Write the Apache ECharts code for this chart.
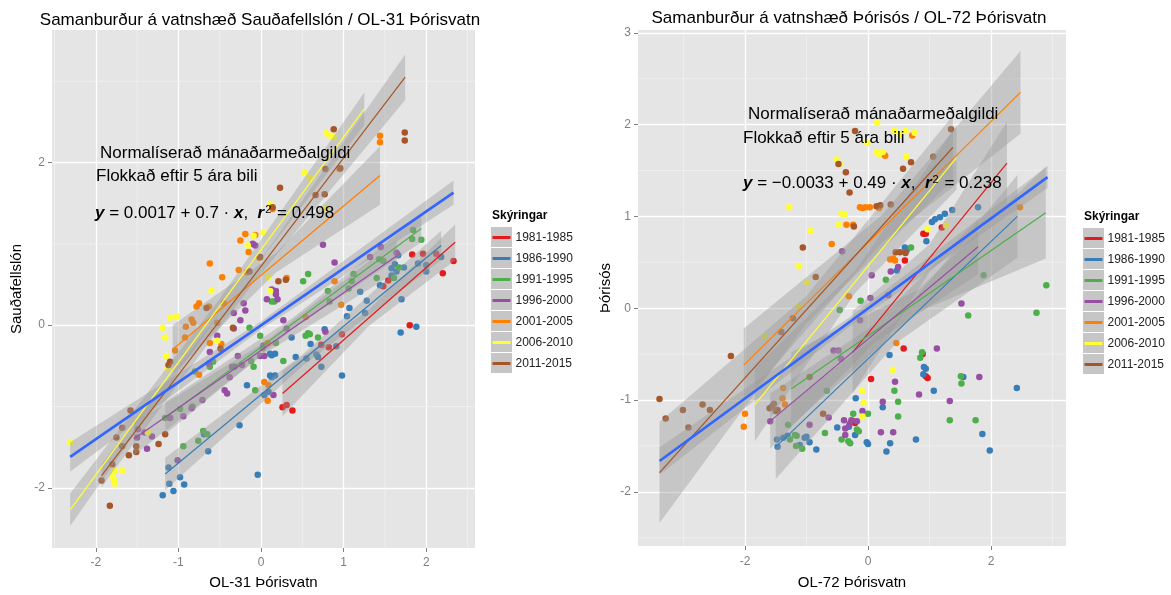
<!DOCTYPE html>
<html><head><meta charset="utf-8">
<script src="https://cdn.jsdelivr.net/npm/echarts@6/dist/echarts.min.js"></script>
<style>html,body{margin:0;padding:0;background:#fff}#c{width:1171px;height:595px}</style>
</head><body><div id="c"></div>
<script>
// ---------- data ----------
const groups = ['1981-1985','1986-1990','1991-1995','1996-2000','2001-2005','2006-2010','2011-2015'];
const colors = ['#E41A1C','#377EB8','#4DAF4A','#984EA3','#FF7F00','#FFFF33','#A65628'];

// Left plot: OL-31 Þórisvatn (x) vs Sauðafellslón (y)
const L81 = [[0.26,-1.01],[0.31,-0.98],[0.38,-1.05],[0.73,-0.24],[0.82,-0.27],[0.98,-0.11],[1.48,0.48],[1.54,0.55],[1.80,0.0],[1.83,0.87],[1.96,0.88],[2.12,0.88],[2.20,0.64],[2.33,0.79]];
const L86 = [[-1.19,-2.09],[-1.06,-2.04],[-1.11,-1.95],[-0.93,-1.96],[-0.98,-1.87],[-1.12,-1.75],[-0.64,-1.55],[-0.69,-1.34],[-0.26,-1.23],[-0.04,-1.84],[-0.17,-0.74],[0.04,-0.86],[0.09,-0.82],[0.13,-0.64],[0.11,-0.62],[0.17,-0.62],[0.13,-0.37],[0.11,-0.35],[0.17,-0.35],[0.37,-0.15],[0.42,-0.39],[0.55,-0.41],[0.60,-0.23],[0.67,-0.36],[0.69,-0.39],[0.73,-0.51],[0.77,-0.05],[0.91,-0.26],[0.98,-0.62],[1.04,0.11],[1.07,0.21],[1.20,0.41],[1.26,0.15],[1.28,0.30],[1.44,0.49],[1.58,0.70],[1.62,0.75],[1.64,0.66],[1.66,0.86],[1.73,0.71],[1.58,0.61],[1.70,0.32],[1.69,-0.09],[1.88,-0.02],[1.90,0.76],[2.0,0.66],[2.0,0.74],[2.18,0.84]];
const L91 = [[-0.94,-1.49],[-0.76,-1.42],[-0.70,-1.30],[-0.65,-1.34],[-1.16,-1.14],[-0.98,-1.03],[-0.83,-1.0],[-0.80,-0.57],[-0.62,-0.51],[-0.58,-0.45],[-0.12,-0.44],[-0.09,-0.51],[-0.07,-0.80],[-0.14,-0.03],[-0.01,-0.13],[0.02,-0.28],[0.13,0.29],[0.16,0.29],[0.18,-0.22],[0.27,-0.44],[0.51,0.54],[0.54,-0.13],[0.57,-0.10],[0.59,-0.11],[0.69,-0.15],[0.57,0.63],[0.81,0.42],[0.83,0.29],[1.06,0.45],[1.10,0.54],[1.12,0.63],[1.40,0.58],[1.43,0.81],[1.48,0.79],[1.61,0.58],[1.67,0.71],[1.83,1.06],[1.84,1.17],[1.94,1.05]];
const L96 = [[-1.50,-1.38],[-1.41,-1.32],[-1.32,-1.37],[-1.38,-1.52],[-1.49,-1.28],[-1.01,-1.66],[-1.10,-1.14],[-0.94,-1.12],[-0.84,-1.02],[-0.71,-0.92],[-0.62,-0.33],[-0.63,-0.47],[-0.53,-0.13],[-0.44,-0.80],[-0.41,-0.84],[-0.38,-0.64],[-0.35,-0.51],[-0.32,-0.51],[-0.33,-0.04],[-0.33,0.15],[-0.28,-0.38],[-0.23,-0.49],[-0.25,0.06],[-0.19,0.18],[-0.21,0.27],[-0.07,0.98],[-0.10,1.0],[-0.01,-0.38],[0.04,-0.38],[0.03,-0.25],[0.07,0.32],[0.13,0.44],[0.15,-0.86],[0.18,0.38],[0.18,0.42],[0.20,0.32],[0.27,0.06],[0.31,-0.04],[0.75,0.99],[0.78,-0.08],[0.89,0.77],[1.32,0.84],[1.45,0.96],[1.64,0.89]];
const L01 = [[-1.04,-0.31],[-0.92,-0.15],[-0.91,-0.02],[-0.82,0.03],[-0.84,0.07],[-0.75,0.27],[-0.63,0.23],[-0.45,0.27],[-0.78,0.23],[-0.75,-0.61],[-0.62,-0.22],[-0.53,0.03],[-0.48,-0.23],[-0.47,0.59],[-0.62,0.76],[-0.27,0.68],[-0.17,0.65],[-0.25,1.04],[-0.19,1.12],[-0.07,1.11],[-0.15,0.90],[-0.02,0.83],[0.04,-0.70],[0.08,-0.93],[0.09,-0.74],[0.08,-0.22],[0.14,1.43],[0.31,0.58],[0.54,0.10],[0.89,0.54],[0.97,0.25],[0.95,1.92],[1.44,2.33],[1.44,2.25]];
const L06 = [[-2.31,-1.44],[-1.80,-1.85],[-1.78,-1.91],[-1.77,-1.95],[-1.77,-1.79],[-1.68,-1.79],[-1.37,-1.32],[-1.19,-0.03],[-1.16,-0.15],[-1.15,-0.38],[-1.13,-0.53],[-1.10,0.09],[-1.02,0.11],[-0.60,0.42],[-0.53,-0.19],[-0.16,0.98],[-0.09,1.10],[0.03,1.14],[0.09,0.59],[0.11,1.49],[0.11,0.42],[0.53,1.87],[0.59,1.81],[0.78,1.43],[0.79,2.36],[0.84,2.33],[0.88,2.31]];
const L11 = [[-1.93,-1.91],[-1.83,-2.22],[-1.80,-1.71],[-1.75,-1.38],[-1.68,-1.26],[-1.68,-1.49],[-1.60,-1.60],[-1.58,-1.05],[-1.51,-1.56],[-1.51,-1.49],[-1.24,-1.46],[-1.16,-1.34],[-1.12,-0.49],[-1.10,-0.45],[-0.66,0.21],[-0.49,-0.29],[-0.34,-0.03],[-0.14,0.66],[-0.01,0.84],[0.14,1.45],[0.21,0.54],[0.30,0.56],[0.23,1.69],[0.66,1.60],[0.77,1.61],[0.78,1.92],[0.88,2.41],[0.96,1.93],[1.74,2.37],[1.74,2.27]];
// fitted lines per group [x0, y0, x1, y1] and band half widths [start, middle, end]
const leftFits = [[0.26,-0.84,2.35,1.02],[-1.16,-1.83,2.18,0.98],[-1.16,-1.14,1.94,1.19],[-1.54,-1.40,1.64,0.85],[-1.07,-0.30,1.44,1.84],[-2.31,-2.27,1.25,2.66],[-1.93,-1.85,1.745,3.05]];
const leftBands = [[0.28,0.10,0.22],[0.2,0.07,0.18],[0.2,0.07,0.17],[0.2,0.07,0.2],[0.3,0.12,0.36],[0.2,0.09,0.2],[0.14,0.08,0.28]];
const leftOverall = [-2.31,-1.62,2.33,1.63];
const leftOverallBand = [0.18,0.05,0.15];

// Right plot: OL-72 Þórisvatn (x) vs Þórisós (y)
const R81 = [[0.58,-0.44],[0.89,-0.50],[0.97,-0.76],[0.94,-0.74],[0.05,-0.77],[-0.24,-1.23],[-0.21,-1.25],[0.60,0.52],[0.90,0.81],[0.94,0.81],[1.20,0.88]];
const R86 = [[-1.48,-1.43],[-1.47,-1.51],[-1.38,-1.41],[-1.31,-1.39],[-1.03,-1.41],[-0.95,-1.46],[-1.0,-1.40],[-0.84,-1.54],[-1.11,-1.49],[-0.50,-1.30],[-0.31,-1.29],[-0.21,-1.38],[-0.20,-0.98],[-0.02,-1.46],[0.0,-1.48],[0.24,-1.08],[0.30,-1.56],[0.36,-1.47],[0.35,-0.51],[0.47,0.41],[0.60,0.66],[0.63,0.63],[0.78,-1.43],[0.91,-0.64],[0.90,-0.72],[0.94,-0.66],[0.95,0.73],[1.04,0.94],[1.07,-0.90],[1.09,0.97],[1.17,0.99],[1.25,1.03],[1.37,1.07],[1.55,-0.75],[1.79,1.10],[1.86,-1.37],[1.98,-1.55],[2.42,-0.87]];
const R91 = [[-1.30,-1.27],[-1.16,-1.39],[-1.07,-1.53],[-1.17,-1.50],[-1.27,-1.43],[-1.19,-1.38],[-0.70,-1.36],[-0.67,-0.90],[-0.46,-0.02],[-0.43,-1.43],[-0.32,-1.45],[-0.29,-1.47],[-0.24,-1.15],[-0.18,-1.32],[-0.15,-1.34],[-0.12,0.08],[0.0,-1.15],[0.29,0.31],[0.43,-0.90],[0.49,-1.02],[0.49,-1.18],[0.70,0.66],[0.85,-0.54],[0.88,-0.48],[1.33,-1.22],[1.51,-0.74],[1.52,-0.82],[1.63,-0.08],[1.75,-1.22],[1.88,0.36],[2.74,-0.05],[2.90,0.25]];
const R96 = [[-1.59,-1.23],[-0.95,-1.27],[-0.64,-1.19],[-0.56,-0.46],[-0.48,-0.46],[-0.44,-0.55],[-0.42,0.62],[-0.39,-1.22],[-0.37,-1.38],[-0.37,-1.31],[-0.30,-1.26],[-0.27,-1.22],[-0.18,-1.23],[-0.13,-0.13],[-0.09,-1.12],[0.04,0.11],[0.06,0.36],[0.21,-1.35],[0.24,-1.02],[0.33,0.14],[0.37,0.40],[0.41,-1.35],[0.44,-0.80],[0.49,0.45],[0.83,-0.94],[1.12,-0.44],[1.33,-1.01],[1.52,0.05],[1.81,-0.75]];
const R01 = [[-2.02,-1.29],[-2.0,-1.15],[-1.39,-0.98],[-1.38,-0.87],[-1.35,-1.05],[-0.59,0.70],[-0.35,0.91],[-0.24,0.91],[-0.13,1.10],[-0.09,1.09],[-0.04,1.10],[0.03,1.10],[0.18,1.09],[0.25,1.68],[0.28,1.66],[0.36,0.53],[0.41,0.54],[0.44,0.52],[0.46,-0.38],[0.72,1.88],[2.47,1.10],[-0.31,0.13]];
const R06 = [[-1.68,-0.31],[-1.28,1.10],[-1.13,0.02],[-1.12,0.46],[-0.99,0.28],[-0.93,0.84],[-0.51,1.62],[-0.46,1.57],[-0.47,0.91],[-0.43,1.03],[-0.38,1.02],[-0.10,-0.90],[-0.09,-1.18],[-0.07,-1.03],[-0.01,1.80],[0.15,2.02],[0.14,1.70],[0.18,1.68],[0.24,1.70],[0.40,-0.67],[0.43,1.93],[0.52,1.89],[0.61,1.93],[0.62,1.65],[0.76,1.91],[0.97,0.86],[1.27,0.90]];
const R11 = [[-3.39,-0.99],[-3.29,-1.20],[-3.01,-1.11],[-2.92,-1.30],[-2.69,-1.05],[-2.57,-1.11],[-2.23,-0.52],[-1.60,-1.09],[-1.56,-1.07],[-1.53,-1.04],[-1.50,-1.12],[-1.47,-1.11],[-1.41,-0.26],[-1.22,-0.11],[-1.06,0.66],[-0.95,-0.75],[-0.85,0.34],[-0.73,-1.15],[-0.48,1.57],[-0.36,1.48],[-0.30,1.26],[-0.23,0.89],[-0.21,1.93],[0.14,1.11],[0.20,1.12],[0.37,1.13],[0.45,0.61],[0.52,0.61],[0.57,1.52],[0.61,0.60],[0.70,1.59],[1.06,1.65],[1.35,1.95]];
const rightFits = [[-0.25,-0.48,2.26,1.58],[-1.50,-1.51,2.43,1.0],[-1.25,-0.88,2.89,1.04],[-1.59,-1.23,1.79,0.67],[-2.02,-0.62,2.48,2.35],[-1.84,-1.05,1.44,1.64],[-3.39,-1.79,1.38,1.75]];
const rightBands = [[0.45,0.15,0.45],[0.35,0.12,0.45],[0.4,0.12,0.5],[0.3,0.1,0.3],[0.4,0.15,0.45],[0.4,0.12,0.35],[0.55,0.15,0.35]];
const rightOverall = [-3.39,-1.664,2.92,1.428];
const rightOverallBand = [0.15,0.05,0.12];

// axis ranges and minor grid positions
const leftX = [-2.53, 2.59], leftY = [-2.74, 3.63];
const rightX = [-3.74, 3.22], rightY = [-2.59, 3.03];
const leftMinorX = [-2.5,-1.5,-0.5,0.5,1.5,2.5], leftMinorY = [-1,1,3];
const rightMinorX = [-3,-1,1,3], rightMinorY = [-2.5,-1.5,-0.5,0.5,1.5,2.5];

// ---------- chart ----------
const FONT = '"Liberation Sans", Arial, sans-serif';
const chart = echarts.init(document.getElementById('c'));

function bandRow(f, hw) {
  const xm = (f[0] + f[2]) / 2, ym = (f[1] + f[3]) / 2;
  return [f[0], f[1] - hw[0], f[1] + hw[0], xm, ym - hw[1], ym + hw[1], f[2], f[3] - hw[2], f[3] + hw[2]];
}

function plotSeries(idx, pts, fits, bands, overall, overallBand, minorX, minorY) {
  const s = [];
  const minorData = minorX.map(v => [v, 0, 0]).concat(minorY.map(v => [0, v, 1]));
  s.push({
    type: 'custom', xAxisIndex: idx, yAxisIndex: idx, z: 1, silent: true,
    data: minorData, encode: { x: 0, y: 1 },
    renderItem: (params, api) => {
      const cs = params.coordSys;
      if (api.value(2) === 0) {
        const p = api.coord([api.value(0), 0]);
        return { type: 'line', shape: { x1: p[0], y1: cs.y, x2: p[0], y2: cs.y + cs.height }, style: { stroke: '#F2F2F2', lineWidth: 0.7 } };
      }
      const p = api.coord([0, api.value(1)]);
      return { type: 'line', shape: { x1: cs.x, y1: p[1], x2: cs.x + cs.width, y2: p[1] }, style: { stroke: '#F2F2F2', lineWidth: 0.7 } };
    }
  });
  pts.forEach((d, g) => {
    s.push({ type: 'scatter', name: groups[g], xAxisIndex: idx, yAxisIndex: idx, z: 2, data: d, symbolSize: 6.5,
      itemStyle: { color: colors[g], opacity: 1 } });
  });
  const bandData = fits.map((f, g) => bandRow(f, bands[g]));
  bandData.push(bandRow(overall, overallBand));
  s.push({
    type: 'custom', xAxisIndex: idx, yAxisIndex: idx, z: 3, silent: true,
    data: bandData, encode: { x: [0, 3, 6], y: [1, 2, 4, 5, 7, 8] },
    renderItem: (params, api) => {
      const lo = [[0, 1], [3, 4], [6, 7]].map(([a, b]) => api.coord([api.value(a), api.value(b)]));
      const hi = [[0, 2], [3, 5], [6, 8]].map(([a, b]) => api.coord([api.value(a), api.value(b)]));
      return { type: 'polygon', shape: { points: hi.concat(lo.reverse()) }, style: { fill: 'rgba(153,153,153,0.4)' } };
    }
  });
  fits.forEach((f, g) => {
    s.push({ type: 'line', name: groups[g], xAxisIndex: idx, yAxisIndex: idx, z: 4, silent: true,
      data: [[f[0], f[1]], [f[2], f[3]]], showSymbol: false, symbol: 'none',
      lineStyle: { color: colors[g], width: 1.2 }, itemStyle: { color: colors[g] } });
  });
  s.push({ type: 'line', name: 'overall', xAxisIndex: idx, yAxisIndex: idx, z: 5, silent: true,
    data: [[overall[0], overall[1]], [overall[2], overall[3]]], showSymbol: false, symbol: 'none',
    lineStyle: { color: '#3366FF', width: 2.6 } });
  return s;
}

function axisOpt(idx, range, split, name, gap, margin) {
  return { type: 'value', gridIndex: idx, min: range[0], max: range[1], splitNumber: split,
    name: name, nameLocation: 'middle', nameGap: gap,
    nameTextStyle: { fontFamily: FONT, fontSize: 15, color: '#000' },
    axisLine: { show: false, onZero: false }, axisTick: { show: true, length: 4, lineStyle: { color: '#7F7F7F' } },
    axisLabel: { showMinLabel: false, showMaxLabel: false, margin: margin, color: '#7F7F7F', fontFamily: FONT, fontSize: 12 },
    splitLine: { show: true, showMinLine: false, showMaxLine: false, lineStyle: { color: '#FFFFFF', width: 1.3 } } };
}

const series = [].concat(
  plotSeries(0, [L81, L86, L91, L96, L01, L06, L11], leftFits, leftBands, leftOverall, leftOverallBand, leftMinorX, leftMinorY),
  plotSeries(1, [R81, R86, R91, R96, R01, R06, R11], rightFits, rightBands, rightOverall, rightOverallBand, rightMinorX, rightMinorY)
);

function legendOpt(left, top) {
  return { data: groups, orient: 'vertical', left: left, top: top, padding: 0, itemGap: 0,
    icon: 'rect', itemWidth: 18, itemHeight: 3, selectedMode: false,
    textStyle: { fontFamily: FONT, fontSize: 12, color: '#222', lineHeight: 21, padding: [0, 0, 0, 0] } };
}

const graphics = [];
[[491, 227], [1083, 228]].forEach(([x, y]) => {
  for (let i = 0; i < groups.length; i++) {
    graphics.push({ type: 'rect', z: 0, shape: { x: x, y: y + 21 * i, width: 21, height: 20 }, style: { fill: '#C6C6C6' } });
  }
  graphics.push({ type: 'text', x: x + 1, y: y - 11, style: { text: 'Skýringar', font: 'bold 12px ' + FONT, fill: '#000', align: 'left', verticalAlign: 'middle' } });
});
function txt(x, y, text, size, align) {
  return { type: 'text', x: x, y: y, z: 10, style: { text: text, font: size + 'px ' + FONT, fill: '#000', align: align || 'left', verticalAlign: 'middle' } };
}
graphics.push(txt(260, 20, 'Samanburður á vatnshæð Sauðafellslón / OL-31 Þórisvatn', 17, 'center'));
graphics.push(txt(849, 18, 'Samanburður á vatnshæð Þórisós / OL-72 Þórisvatn', 17, 'center'));
graphics.push(txt(100, 153, 'Normalíserað mánaðarmeðalgildi', 17));
graphics.push(txt(96, 176, 'Flokkað eftir 5 ára bili', 17));
graphics.push(txt(748, 114, 'Normalíserað mánaðarmeðalgildi', 17));
graphics.push(txt(743, 138, 'Flokkað eftir 5 ára bili', 17));
function eq(x, y, a, b, r2) {
  return { type: 'text', x: x, y: y, z: 10, style: {
    text: '{v|y}{n| = ' + a + ' + ' + b + ' · }{v|x}{n|,  }{v|r}{s|2}{n| = ' + r2 + '}',
    verticalAlign: 'middle', align: 'left',
    rich: {
      n: { font: '17px ' + FONT, fill: '#000', color: '#000' },
      v: { font: 'italic bold 17px ' + FONT, fill: '#000', color: '#000' },
      s: { font: '11px ' + FONT, fill: '#000', color: '#000', padding: [0, 1, 7, 1] }
    } } };
}
graphics.push(eq(95, 213, '0.0017', '0.7', '0.498'));
graphics.push(eq(743, 183, '−0.0033', '0.49', '0.238'));

chart.setOption({
  animation: false,
  backgroundColor: '#FFFFFF',
  grid: [
    { left: 52, top: 30, width: 423, height: 525, show: true, backgroundColor: '#E5E5E5', borderWidth: 0 },
    { left: 638, top: 30, width: 428, height: 529, show: true, backgroundColor: '#E5E5E5', borderWidth: 0 }
  ],
  xAxis: [axisOpt(0, leftX, 5, 'OL-31 Þórisvatn', 27, 9), axisOpt(1, rightX, 3, 'OL-72 Þórisvatn', 29, 10)],
  yAxis: [axisOpt(0, leftY, 3, 'Sauðafellslón', 28, 7), axisOpt(1, rightY, 5, 'Þórisós', 25, 7)],
  legend: [legendOpt(492.5, 227), legendOpt(1084.5, 228)],
  graphic: graphics,
  series: series
});
</script></body></html>
